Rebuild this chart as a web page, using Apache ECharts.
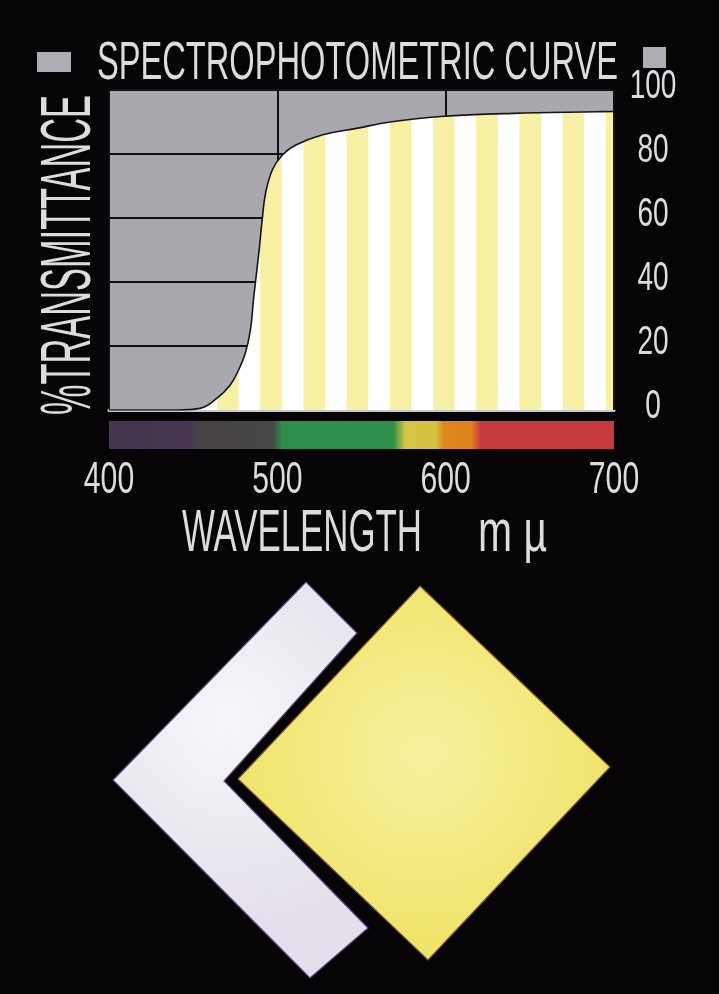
<!DOCTYPE html>
<html>
<head>
<meta charset="UTF-8">
<title>Spectrophotometric curve</title>
<script src="https://cdn.jsdelivr.net/npm/echarts@6.0.0/dist/echarts.min.js"></script>
<style>
  html, body { margin: 0; padding: 0; background: #060406; }
  #chart { width: 719px; height: 994px; }
</style>
</head>
<body>
<div id="chart"></div>
<script>
// curve (wavelength in mu, % transmittance)
const wavelengths = [400, 440, 454, 464, 472, 477, 481, 484, 486, 489, 491, 493, 497, 503, 511, 527, 547, 567, 597, 640, 690, 700];
const transmittance = [0, 0, 0.5, 3.6, 7.8, 12.5, 17.8, 25, 35.4, 49, 59.4, 67.7, 75, 79.7, 82.8, 86, 88, 90, 91.7, 92.7, 93.2, 93.3];

const xTicks = [400, 500, 600, 700];
const yTicks = [0, 20, 40, 60, 80, 100];

// colour band under the plot
const spectrumNm = [400, 448, 454, 497, 503, 569, 576, 594, 599, 615, 621, 700];
const spectrumColors = ['#44364f', '#463652', '#474345', '#474545', '#2d8f4a', '#2f9148', '#d6c444', '#d8c242', '#e0861e', '#e0841e', '#c63a3c', '#c43a3e'];

const titleText = 'SPECTROPHOTOMETRIC CURVE';
const yName = '%TRANSMITTANCE';
const xName = 'WAVELENGTH';
const unitText = 'm \u00b5';

const textColor = '#dddbe0';
const font = '"Liberation Sans", Arial, sans-serif';

const measureCtx = document.createElement('canvas').getContext('2d');
function textWidth(text, size) {
  measureCtx.font = size + 'px ' + font;
  return measureCtx.measureText(text).width;
}

// the box uses very condensed lettering, so squeeze the text horizontally
function squeezed(text, size, scale, props, align) {
  return Object.assign({
    type: 'text',
    scaleX: scale,
    style: { text: text, fill: textColor, fontSize: size, fontFamily: font, align: align || 'left', verticalAlign: 'middle' }
  }, props);
}
function fitted(text, size, width, props, align) {
  return squeezed(text, size, width / textWidth(text, size), props, align);
}

// pale yellow / white stripes used to fill the curve
function stripes() {
  const c = document.createElement('canvas');
  c.width = 216;
  c.height = 4;
  const ctx = c.getContext('2d');
  ctx.fillStyle = '#ffffff';
  ctx.fillRect(0, 0, c.width, c.height);
  ctx.fillStyle = '#f8f0a2';
  for (let i = 0; i < 5; i++) {
    ctx.fillRect(1 + i * 43.2, 0, 21.6, c.height);
  }
  return c;
}

const curve = wavelengths.map((w, i) => [w, transmittance[i]]);
const lastNm = wavelengths[wavelengths.length - 1];
const lastT = transmittance[transmittance.length - 1];
const bandStops = spectrumNm.map((w, i) => ({
  offset: (w - xTicks[0]) / (xTicks[xTicks.length - 1] - xTicks[0]),
  color: spectrumColors[i]
}));

const chart = echarts.init(document.getElementById('chart'));

const decorations = [
  { type: 'rect', shape: { x: 37, y: 52, width: 34, height: 20 }, style: { fill: '#aeacb4' } },
  { type: 'rect', shape: { x: 643, y: 47, width: 23, height: 21 }, style: { fill: '#aeacb4' } },
  fitted(titleText, 53, 521, { x: 97, y: 64 }),
  fitted(yName, 70, 320, { x: 71, y: 255, rotation: Math.PI / 2 }, 'center'),
  fitted(xName, 60, 240, { x: 182, y: 534 }),
  fitted(unitText, 60, 69, { x: 478, y: 534 }),
  {
    type: 'polygon',
    shape: { points: [[306, 582], [357, 633], [224, 781], [368, 928], [310, 978], [113, 780]] },
    style: {
      fill: { type: 'radial', x: 0.45, y: 0.35, r: 0.8, colorStops: [{ offset: 0, color: '#f8f6fa' }, { offset: 1, color: '#e4dfea' }] },
      stroke: '#5d4a80', lineWidth: 1.2
    }
  },
  {
    type: 'polygon',
    shape: { points: [[420, 586], [610, 767], [428, 960], [238, 779]] },
    style: {
      fill: { type: 'radial', x: 0.5, y: 0.45, r: 0.7, colorStops: [{ offset: 0, color: '#f7f0a0' }, { offset: 1, color: '#ece056' }] },
      stroke: '#7a5c22', lineWidth: 1.2
    }
  }
];

const option = {
  backgroundColor: '#060406',
  animation: false,
  grid: [
    { left: 109, right: 105, top: 90, bottom: 584, show: true, backgroundColor: '#a9a8ae', borderWidth: 0 },
    { left: 109, right: 105, top: 421, height: 28 }
  ],
  xAxis: [
    {
      type: 'value', gridIndex: 0,
      min: xTicks[0], max: xTicks[xTicks.length - 1], interval: 100,
      axisLine: { show: true, lineStyle: { color: '#c9c8cc', width: 3 } },
      axisTick: { show: false },
      axisLabel: { show: false },
      splitLine: { show: true, lineStyle: { color: '#111111', width: 2 } }
    },
    {
      type: 'value', gridIndex: 1,
      min: xTicks[0], max: xTicks[xTicks.length - 1],
      show: false
    }
  ],
  yAxis: [
    {
      type: 'value', gridIndex: 0, position: 'right',
      min: yTicks[0], max: yTicks[yTicks.length - 1], interval: 20,
      axisLine: { show: false },
      axisTick: { show: false },
      axisLabel: { show: false },
      splitLine: { show: true, lineStyle: { color: '#111111', width: 2 } }
    },
    { type: 'value', gridIndex: 1, min: 0, max: 1, show: false }
  ],
  series: [
    {
      type: 'line',
      xAxisIndex: 0, yAxisIndex: 0,
      data: curve,
      smooth: 0.4,
      showSymbol: false,
      lineStyle: { color: '#161416', width: 1.6 },
      areaStyle: { color: { image: stripes(), repeat: 'repeat' }, opacity: 1 },
      // outline down the right edge of the filled curve
      markLine: {
        silent: true,
        symbol: 'none',
        label: { show: false },
        lineStyle: { color: '#161416', width: 2, type: 'solid' },
        data: [[{ coord: [lastNm, 0] }, { coord: [lastNm, lastT] }]]
      },
      silent: true
    },
    {
      type: 'line',
      xAxisIndex: 1, yAxisIndex: 1,
      data: [[xTicks[0], 1], [xTicks[xTicks.length - 1], 1]],
      showSymbol: false,
      lineStyle: { width: 0 },
      areaStyle: {
        opacity: 1,
        color: { type: 'linear', x: 0, y: 0, x2: 1, y2: 0, colorStops: bandStops }
      },
      silent: true
    }
  ],
  graphic: decorations
};

chart.setOption(option);

// tick labels, placed through the axes' own scales, in the same condensed lettering
const tickLabels = [];
xTicks.forEach((v) => {
  const px = chart.convertToPixel({ xAxisIndex: 0 }, v);
  tickLabels.push(squeezed(String(v), 45, 0.67, { x: px, y: 481 }, 'center'));
});
yTicks.forEach((v) => {
  const py = chart.convertToPixel({ yAxisIndex: 0 }, v);
  tickLabels.push(squeezed(String(v), 40, 0.7, { x: 653, y: py - 3 }, 'center'));
});
chart.setOption({ graphic: decorations.concat(tickLabels) });
</script>
</body>
</html>
